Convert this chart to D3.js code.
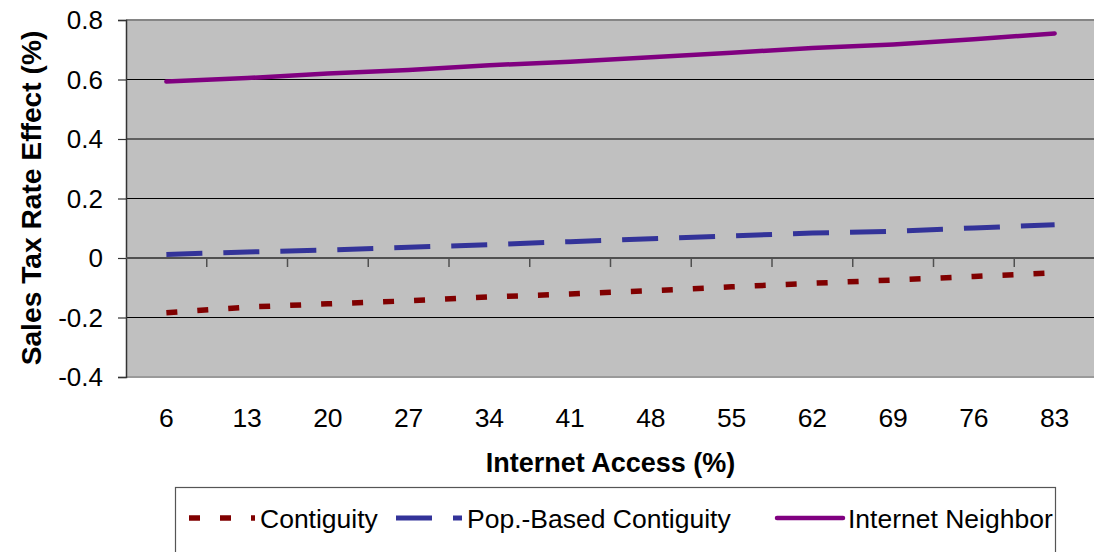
<!DOCTYPE html>
<html>
<head>
<meta charset="utf-8">
<script src="https://cdn.jsdelivr.net/npm/d3@7"></script>
<style>
  html, body { margin: 0; padding: 0; background: #fff; }
  svg { display: block; font-family: "Liberation Sans", Arial, sans-serif; }
</style>
</head>
<body>
<svg id="chart" width="1094" height="552"></svg>
<script>
// Internet access levels (%) on the category axis
const categories = [6, 13, 20, 27, 34, 41, 48, 55, 62, 69, 76, 83];

// Estimated sales tax rate effect (%) under each weighting scheme
const contiguity = [-0.184, -0.165, -0.154, -0.144, -0.131, -0.121, -0.110, -0.097, -0.085, -0.074, -0.062, -0.050];
const popBased   = [0.012, 0.020, 0.027, 0.036, 0.045, 0.055, 0.065, 0.074, 0.084, 0.090, 0.101, 0.112];
const internetNb = [0.593, 0.605, 0.620, 0.632, 0.648, 0.660, 0.675, 0.690, 0.706, 0.718, 0.735, 0.755];

const yTicks = [-0.4, -0.2, 0, 0.2, 0.4, 0.6, 0.8];
const yTickLabels = ["-0.4", "-0.2", "0", "0.2", "0.4", "0.6", "0.8"];

const seriesNames = ["Contiguity", "Pop.-Based Contiguity", "Internet Neighbor"];

const series = [
  { name: seriesNames[0], values: contiguity, color: "#800000", width: 5.5, dash: "11,20", cap: "butt" },
  { name: seriesNames[1], values: popBased,   color: "#333399", width: 5,   dash: "36,21", cap: "butt" },
  { name: seriesNames[2], values: internetNb, color: "#800080", width: 4.5, dash: null,    cap: "round" }
];

const svg = d3.select("#chart");
const plot = { left: 126, right: 1095, top: 20, bottom: 377 };

const x = d3.scaleBand().domain(categories).range([plot.left, plot.right]).paddingInner(0).paddingOuter(0);
const y = d3.scaleLinear().domain([-0.4, 0.8]).range([plot.bottom, plot.top]);
const cx = d => x(d) + x.bandwidth() / 2;

// plot area background
svg.append("rect")
  .attr("x", plot.left).attr("y", plot.top)
  .attr("width", plot.right - plot.left).attr("height", plot.bottom - plot.top)
  .attr("fill", "#c0c0c0");

// horizontal gridlines
svg.append("g").selectAll("line")
  .data(yTicks.filter(v => v !== 0 && v !== 0.8 && v !== -0.4))
  .join("line")
  .attr("x1", plot.left).attr("x2", plot.right)
  .attr("y1", d => y(d)).attr("y2", d => y(d))
  .attr("stroke", "#000").attr("stroke-width", 1.2);

// top and bottom frame lines
svg.append("line").attr("x1", plot.left).attr("x2", plot.right)
  .attr("y1", y(0.8)).attr("y2", y(0.8)).attr("stroke", "#858585").attr("stroke-width", 2);
svg.append("line").attr("x1", plot.left).attr("x2", plot.right)
  .attr("y1", y(-0.4)).attr("y2", y(-0.4)).attr("stroke", "#9a9a9a").attr("stroke-width", 2);

// y axis
const yAxis = d3.axisLeft(y).tickValues(yTicks).tickSize(8).tickFormat((d, i) => yTickLabels[i]);
const gy = svg.append("g").attr("transform", `translate(${plot.left},0)`).call(yAxis);
gy.select(".domain").attr("stroke", "#333").attr("stroke-width", 1.5);
gy.selectAll(".tick line").attr("stroke", "#333").attr("stroke-width", 1.2);
gy.selectAll(".tick text")
  .attr("x", -23).attr("dy", "0.34em")
  .attr("font-size", 26).attr("fill", "#000")
  .attr("font-family", "'Liberation Sans', Arial, sans-serif");

// x axis line crossing at zero, with ticks between categories
const gx = svg.append("g").attr("transform", `translate(0,${y(0)})`);
gx.append("line").attr("x1", plot.left).attr("x2", plot.right)
  .attr("stroke", "#505050").attr("stroke-width", 2);
gx.selectAll("line.tk")
  .data(categories.slice(1))
  .join("line").attr("class", "tk")
  .attr("x1", d => x(d)).attr("x2", d => x(d))
  .attr("y1", 0).attr("y2", 9)
  .attr("stroke", "#505050").attr("stroke-width", 1.5);

// category labels below the plot
svg.append("g").selectAll("text")
  .data(categories)
  .join("text")
  .attr("x", d => cx(d)).attr("y", 427)
  .attr("text-anchor", "middle")
  .attr("font-size", 26.5).attr("fill", "#000")
  .text(d => d);

// axis titles
svg.append("text")
  .attr("x", (plot.left + plot.right) / 2).attr("y", 472)
  .attr("text-anchor", "middle")
  .attr("font-size", 27).attr("font-weight", "bold")
  .text("Internet Access (%)");

svg.append("text")
  .attr("transform", `translate(41,198) rotate(-90)`)
  .attr("text-anchor", "middle")
  .attr("font-size", 28.2).attr("font-weight", "bold")
  .text("Sales Tax Rate Effect (%)");

// series lines
const line = d3.line().x((d, i) => cx(categories[i])).y(d => y(d));
svg.append("g").selectAll("path")
  .data(series)
  .join("path")
  .attr("d", s => line(s.values))
  .attr("fill", "none")
  .attr("stroke", s => s.color)
  .attr("stroke-width", s => s.width)
  .attr("stroke-dasharray", s => s.dash)
  .attr("stroke-linecap", s => s.cap)
  .attr("stroke-linejoin", "round");

// legend
const legend = svg.append("g");
legend.append("rect")
  .attr("x", 175.5).attr("y", 487.5).attr("width", 880).attr("height", 80)
  .attr("fill", "#fff").attr("stroke", "#555").attr("stroke-width", 1.2);

const legendX = [189, 396, 777];
const items = legend.selectAll("g.item")
  .data(series)
  .join("g").attr("class", "item")
  .attr("transform", (s, i) => `translate(${legendX[i]},518)`);
items.append("line")
  .attr("x1", 0).attr("x2", 66)
  .attr("stroke", s => s.color)
  .attr("stroke-width", s => s.width)
  .attr("stroke-dasharray", s => s.dash)
  .attr("stroke-linecap", s => s.cap === "round" ? "round" : "butt");
items.append("text")
  .attr("x", 71).attr("y", 9.5)
  .attr("font-size", 26.5).attr("fill", "#000")
  .text(s => s.name);
</script>
</body>
</html>
